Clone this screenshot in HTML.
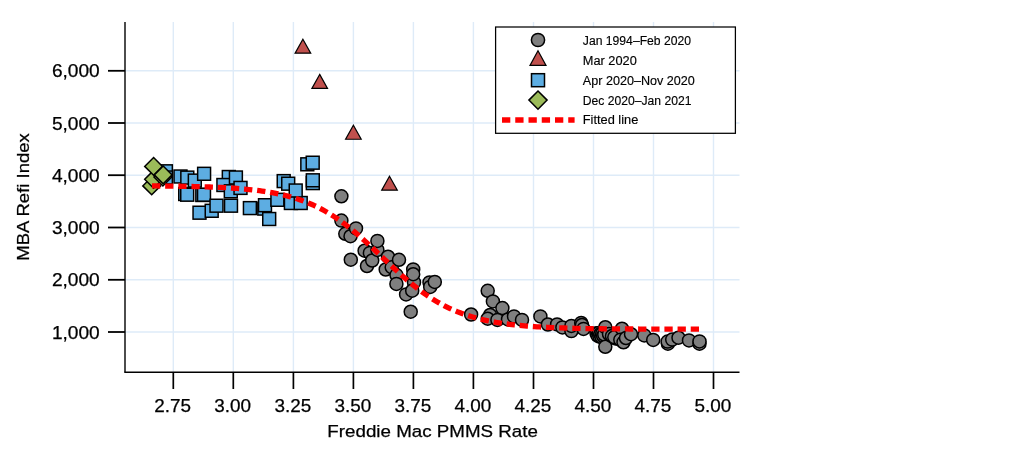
<!DOCTYPE html>
<html><head><meta charset="utf-8"><title>MBA Refi Index vs Freddie Mac PMMS Rate</title>
<style>html,body{margin:0;padding:0;background:#fff}svg{display:block}</style></head>
<body>
<svg width="1024" height="465" viewBox="0 0 1024 465">
<rect width="1024" height="465" fill="#fff"/>
<g stroke="#deebf8" stroke-width="1.4" fill="none">
<line x1="173.3" y1="22" x2="173.3" y2="372"/>
<line x1="233.3" y1="22" x2="233.3" y2="372"/>
<line x1="293.4" y1="22" x2="293.4" y2="372"/>
<line x1="353.4" y1="22" x2="353.4" y2="372"/>
<line x1="413.4" y1="22" x2="413.4" y2="372"/>
<line x1="473.4" y1="22" x2="473.4" y2="372"/>
<line x1="533.5" y1="22" x2="533.5" y2="372"/>
<line x1="593.5" y1="22" x2="593.5" y2="372"/>
<line x1="653.5" y1="22" x2="653.5" y2="372"/>
<line x1="713.5" y1="22" x2="713.5" y2="372"/>
<line x1="125" y1="332.0" x2="739.5" y2="332.0"/>
<line x1="125" y1="279.8" x2="739.5" y2="279.8"/>
<line x1="125" y1="227.5" x2="739.5" y2="227.5"/>
<line x1="125" y1="175.2" x2="739.5" y2="175.2"/>
<line x1="125" y1="123.0" x2="739.5" y2="123.0"/>
<line x1="125" y1="70.8" x2="739.5" y2="70.8"/>
</g>
<g fill="#7f7f7f" stroke="#000" stroke-width="1.5">
<circle cx="341.4" cy="196.3" r="6.5"/>
<circle cx="341.4" cy="220.6" r="6.5"/>
<circle cx="345.3" cy="233.8" r="6.5"/>
<circle cx="350.5" cy="236.2" r="6.5"/>
<circle cx="356" cy="228.4" r="6.5"/>
<circle cx="350.8" cy="259.7" r="6.5"/>
<circle cx="364.6" cy="250.7" r="6.5"/>
<circle cx="369.9" cy="252.9" r="6.5"/>
<circle cx="367" cy="266" r="6.5"/>
<circle cx="372.2" cy="260.5" r="6.5"/>
<circle cx="377.4" cy="249.9" r="6.5"/>
<circle cx="377.4" cy="240.9" r="6.5"/>
<circle cx="388" cy="256.7" r="6.5"/>
<circle cx="385.7" cy="269.5" r="6.5"/>
<circle cx="391.7" cy="267.2" r="6.5"/>
<circle cx="399" cy="259.8" r="6.5"/>
<circle cx="396.5" cy="275.1" r="6.5"/>
<circle cx="396.4" cy="283.9" r="6.5"/>
<circle cx="414" cy="282.4" r="6.5"/>
<circle cx="413.2" cy="269.4" r="6.5"/>
<circle cx="413.2" cy="274.2" r="6.5"/>
<circle cx="406.1" cy="294.4" r="6.5"/>
<circle cx="412.2" cy="290.7" r="6.5"/>
<circle cx="410.7" cy="311.7" r="6.5"/>
<circle cx="429.5" cy="282.4" r="6.5"/>
<circle cx="430.2" cy="286.9" r="6.5"/>
<circle cx="434.8" cy="281.9" r="6.5"/>
<circle cx="471.1" cy="314.5" r="6.5"/>
<circle cx="487.7" cy="290.8" r="6.5"/>
<circle cx="492.9" cy="301.4" r="6.5"/>
<circle cx="490.1" cy="315" r="6.5"/>
<circle cx="487.7" cy="318.7" r="6.5"/>
<circle cx="502.4" cy="308.1" r="6.5"/>
<circle cx="497.4" cy="319.9" r="6.5"/>
<circle cx="508" cy="319.4" r="6.5"/>
<circle cx="514" cy="316.4" r="6.5"/>
<circle cx="522" cy="319.9" r="6.5"/>
<circle cx="540.4" cy="316.4" r="6.5"/>
<circle cx="547.9" cy="324.5" r="6.5"/>
<circle cx="557.1" cy="324.4" r="6.5"/>
<circle cx="562.4" cy="327.4" r="6.5"/>
<circle cx="571.4" cy="331.1" r="6.5"/>
<circle cx="571.4" cy="325.9" r="6.5"/>
<circle cx="581.2" cy="322.9" r="6.5"/>
<circle cx="582" cy="325" r="6.5"/>
<circle cx="583.5" cy="328.9" r="6.5"/>
<circle cx="596.5" cy="333.2" r="6.5"/>
<circle cx="597.5" cy="335.5" r="6.5"/>
<circle cx="598.7" cy="333" r="6.5"/>
<circle cx="599.5" cy="336.5" r="6.5"/>
<circle cx="600.4" cy="334" r="6.5"/>
<circle cx="601.5" cy="337" r="6.5"/>
<circle cx="602.3" cy="333.5" r="6.5"/>
<circle cx="603.2" cy="336" r="6.5"/>
<circle cx="604.3" cy="334.5" r="6.5"/>
<circle cx="605.3" cy="327.2" r="6.5"/>
<circle cx="605.3" cy="346.8" r="6.5"/>
<circle cx="609" cy="334" r="6.5"/>
<circle cx="612" cy="336" r="6.5"/>
<circle cx="615.4" cy="338.4" r="6.5"/>
<circle cx="614.3" cy="337.2" r="6.5"/>
<circle cx="622" cy="328.7" r="6.5"/>
<circle cx="620.3" cy="339.8" r="6.5"/>
<circle cx="623.5" cy="342.3" r="6.5"/>
<circle cx="626" cy="338" r="6.5"/>
<circle cx="631" cy="334.2" r="6.5"/>
<circle cx="644.3" cy="335.4" r="6.5"/>
<circle cx="653.2" cy="339.9" r="6.5"/>
<circle cx="667.9" cy="343.7" r="6.5"/>
<circle cx="667.6" cy="341.6" r="6.5"/>
<circle cx="672.2" cy="339.6" r="6.5"/>
<circle cx="678.5" cy="337.7" r="6.5"/>
<circle cx="689" cy="340.4" r="6.5"/>
<circle cx="699.5" cy="343.7" r="6.5"/>
<circle cx="699.5" cy="341.4" r="6.5"/>
</g>
<g fill="#c0504d" stroke="#000" stroke-width="1.2" stroke-linejoin="miter">
<path d="M302.9 39.2L310.7 53.15H295.1Z"/>
<path d="M319.7 74.4L327.5 88.35H311.9Z"/>
<path d="M353.4 125.3L361.2 139.25H345.6Z"/>
<path d="M389.5 176.2L397.3 190.15H381.7Z"/>
</g>
<g fill="#5dade2" stroke="#000" stroke-width="1.5">
<rect x="159.45" y="164.85" width="12.9" height="12.9"/>
<rect x="159.45" y="171.05" width="12.9" height="12.9"/>
<rect x="174.05" y="170.05" width="12.9" height="12.9"/>
<rect x="180.85" y="171.15" width="12.9" height="12.9"/>
<rect x="188.35" y="174.15" width="12.9" height="12.9"/>
<rect x="178.75" y="187.55" width="12.9" height="12.9"/>
<rect x="180.75" y="188.25" width="12.9" height="12.9"/>
<rect x="195.85" y="188.55" width="12.9" height="12.9"/>
<rect x="197.55" y="188.25" width="12.9" height="12.9"/>
<rect x="197.65" y="167.35" width="12.9" height="12.9"/>
<rect x="193.05" y="206.25" width="12.9" height="12.9"/>
<rect x="205.25" y="204.35" width="12.9" height="12.9"/>
<rect x="210.05" y="199.25" width="12.9" height="12.9"/>
<rect x="224.55" y="199.25" width="12.9" height="12.9"/>
<rect x="222.35" y="170.55" width="12.9" height="12.9"/>
<rect x="216.95" y="178.55" width="12.9" height="12.9"/>
<rect x="224.35" y="184.85" width="12.9" height="12.9"/>
<rect x="229.45" y="171.05" width="12.9" height="12.9"/>
<rect x="234.05" y="181.45" width="12.9" height="12.9"/>
<rect x="243.45" y="201.65" width="12.9" height="12.9"/>
<rect x="257.85" y="202.15" width="12.9" height="12.9"/>
<rect x="258.55" y="198.75" width="12.9" height="12.9"/>
<rect x="262.75" y="212.55" width="12.9" height="12.9"/>
<rect x="270.95" y="193.35" width="12.9" height="12.9"/>
<rect x="284.45" y="196.55" width="12.9" height="12.9"/>
<rect x="294.25" y="196.55" width="12.9" height="12.9"/>
<rect x="277.25" y="174.65" width="12.9" height="12.9"/>
<rect x="281.75" y="177.25" width="12.9" height="12.9"/>
<rect x="289.25" y="184.05" width="12.9" height="12.9"/>
<rect x="306.35" y="176.65" width="12.9" height="12.9"/>
<rect x="306.35" y="173.85" width="12.9" height="12.9"/>
<rect x="300.85" y="157.85" width="12.9" height="12.9"/>
<rect x="306.25" y="156.25" width="12.9" height="12.9"/>
</g>
<g fill="#9bbb59" stroke="#000" stroke-width="1.5">
<path d="M151.7 177.0L160.6 185.9L151.7 194.8L142.79999999999998 185.9Z"/>
<path d="M153.6 170.4L162.5 179.3L153.6 188.20000000000002L144.7 179.3Z"/>
<path d="M153.6 157.5L162.5 166.4L153.6 175.3L144.7 166.4Z"/>
<path d="M162.9 168.2L171.8 177.1L162.9 186.0L154.0 177.1Z"/>
<path d="M163.2 166.0L172.1 174.9L163.2 183.8L154.29999999999998 174.9Z"/>
</g>
<path d="M152.0 185.93L154.5 185.95L157.0 185.97L159.5 186.00L162.0 186.02L164.5 186.05L167.0 186.07L169.5 186.10L172.0 186.13L174.5 186.17L177.0 186.20L179.5 186.24L182.0 186.28L184.5 186.33L187.0 186.37L189.5 186.42L192.0 186.48L194.5 186.54L197.0 186.60L199.5 186.66L202.0 186.73L204.5 186.81L207.0 186.89L209.5 186.98L212.0 187.07L214.5 187.17L217.0 187.27L219.5 187.39L222.0 187.51L224.5 187.64L227.0 187.78L229.5 187.92L232.0 188.08L234.5 188.25L237.0 188.43L239.5 188.62L242.0 188.82L244.5 189.04L247.0 189.28L249.5 189.53L252.0 189.79L254.5 190.07L257.0 190.37L259.5 190.70L262.0 191.04L264.5 191.40L267.0 191.79L269.5 192.20L272.0 192.64L274.5 193.11L277.0 193.60L279.5 194.13L282.0 194.69L284.5 195.28L287.0 195.91L289.5 196.58L292.0 197.28L294.5 198.03L297.0 198.82L299.5 199.65L302.0 200.53L304.5 201.46L307.0 202.43L309.5 203.46L312.0 204.55L314.5 205.68L317.0 206.87L319.5 208.12L322.0 209.43L324.5 210.80L327.0 212.23L329.5 213.72L332.0 215.27L334.5 216.88L337.0 218.55L339.5 220.29L342.0 222.08L344.5 223.93L347.0 225.84L349.5 227.81L352.0 229.83L354.5 231.90L357.0 234.02L359.5 236.18L362.0 238.39L364.5 240.64L367.0 242.91L369.5 245.22L372.0 247.55L374.5 249.90L377.0 252.27L379.5 254.65L382.0 257.03L384.5 259.41L387.0 261.78L389.5 264.15L392.0 266.50L394.5 268.82L397.0 271.12L399.5 273.40L402.0 275.63L404.5 277.83L407.0 279.99L409.5 282.10L412.0 284.16L414.5 286.18L417.0 288.14L419.5 290.04L422.0 291.89L424.5 293.68L427.0 295.41L429.5 297.08L432.0 298.69L434.5 300.24L437.0 301.73L439.5 303.16L442.0 304.53L444.5 305.84L447.0 307.10L449.5 308.30L452.0 309.44L454.5 310.54L457.0 311.58L459.5 312.56L462.0 313.51L464.5 314.40L467.0 315.25L469.5 316.05L472.0 316.81L474.5 317.54L477.0 318.22L479.5 318.86L482.0 319.48L484.5 320.05L487.0 320.60L489.5 321.11L492.0 321.60L494.5 322.06L497.0 322.49L499.5 322.89L502.0 323.28L504.5 323.64L507.0 323.98L509.5 324.30L512.0 324.60L514.5 324.88L517.0 325.15L519.5 325.40L522.0 325.63L524.5 325.85L527.0 326.06L529.5 326.26L532.0 326.44L534.5 326.61L537.0 326.77L539.5 326.92L542.0 327.06L544.5 327.20L547.0 327.32L549.5 327.44L552.0 327.55L554.5 327.65L557.0 327.75L559.5 327.84L562.0 327.93L564.5 328.01L567.0 328.08L569.5 328.15L572.0 328.22L574.5 328.28L577.0 328.34L579.5 328.39L582.0 328.44L584.5 328.49L587.0 328.54L589.5 328.58L592.0 328.62L594.5 328.65L597.0 328.69L599.5 328.72L602.0 328.75L604.5 328.78L607.0 328.81L609.5 328.83L612.0 328.85L614.5 328.88L617.0 328.90L619.5 328.92L622.0 328.93L624.5 328.95L627.0 328.97L629.5 328.98L632.0 328.99L634.5 329.01L637.0 329.02L639.5 329.03L642.0 329.04L644.5 329.05L647.0 329.06L649.5 329.07L652.0 329.08L654.5 329.09L657.0 329.09L659.5 329.10L662.0 329.11L664.5 329.11L667.0 329.12L669.5 329.12L672.0 329.13L674.5 329.13L677.0 329.14L679.5 329.14L682.0 329.14L684.5 329.15L687.0 329.15L689.5 329.15L692.0 329.16L694.5 329.16L697.0 329.16L699.5 329.16" fill="none" stroke="#ff0000" stroke-width="5.3" stroke-dasharray="8.3 4.86"/>
<g stroke="#000" stroke-width="1.8" fill="none">
<path d="M125 22V372.2" stroke-width="1.4"/>
<path d="M124.3 372.2H739.5" stroke-width="1.4"/>
<line x1="173.3" y1="372" x2="173.3" y2="389" stroke-width="1.7"/>
<line x1="233.3" y1="372" x2="233.3" y2="389" stroke-width="1.7"/>
<line x1="293.4" y1="372" x2="293.4" y2="389" stroke-width="1.7"/>
<line x1="353.4" y1="372" x2="353.4" y2="389" stroke-width="1.7"/>
<line x1="413.4" y1="372" x2="413.4" y2="389" stroke-width="1.7"/>
<line x1="473.4" y1="372" x2="473.4" y2="389" stroke-width="1.7"/>
<line x1="533.5" y1="372" x2="533.5" y2="389" stroke-width="1.7"/>
<line x1="593.5" y1="372" x2="593.5" y2="389" stroke-width="1.7"/>
<line x1="653.5" y1="372" x2="653.5" y2="389" stroke-width="1.7"/>
<line x1="713.5" y1="372" x2="713.5" y2="389" stroke-width="1.7"/>
<line x1="108" y1="332.0" x2="125" y2="332.0"/>
<line x1="108" y1="279.8" x2="125" y2="279.8"/>
<line x1="108" y1="227.5" x2="125" y2="227.5"/>
<line x1="108" y1="175.2" x2="125" y2="175.2"/>
<line x1="108" y1="123.0" x2="125" y2="123.0"/>
<line x1="108" y1="70.8" x2="125" y2="70.8"/>
</g>
<g font-family="Liberation Sans, Arial, sans-serif" font-size="18" fill="#000" stroke="#000" stroke-width="0.25">
<text x="172.7" y="411.7" text-anchor="middle" textLength="36.8" lengthAdjust="spacingAndGlyphs">2.75</text>
<text x="232.7" y="411.7" text-anchor="middle" textLength="36.8" lengthAdjust="spacingAndGlyphs">3.00</text>
<text x="292.8" y="411.7" text-anchor="middle" textLength="36.8" lengthAdjust="spacingAndGlyphs">3.25</text>
<text x="352.8" y="411.7" text-anchor="middle" textLength="36.8" lengthAdjust="spacingAndGlyphs">3.50</text>
<text x="412.8" y="411.7" text-anchor="middle" textLength="36.8" lengthAdjust="spacingAndGlyphs">3.75</text>
<text x="472.8" y="411.7" text-anchor="middle" textLength="36.8" lengthAdjust="spacingAndGlyphs">4.00</text>
<text x="532.9" y="411.7" text-anchor="middle" textLength="36.8" lengthAdjust="spacingAndGlyphs">4.25</text>
<text x="592.9" y="411.7" text-anchor="middle" textLength="36.8" lengthAdjust="spacingAndGlyphs">4.50</text>
<text x="652.9" y="411.7" text-anchor="middle" textLength="36.8" lengthAdjust="spacingAndGlyphs">4.75</text>
<text x="712.9" y="411.7" text-anchor="middle" textLength="36.8" lengthAdjust="spacingAndGlyphs">5.00</text>
<text x="99.7" y="338.5" text-anchor="end" textLength="47.8" lengthAdjust="spacingAndGlyphs">1,000</text>
<text x="99.7" y="286.2" text-anchor="end" textLength="47.8" lengthAdjust="spacingAndGlyphs">2,000</text>
<text x="99.7" y="234.0" text-anchor="end" textLength="47.8" lengthAdjust="spacingAndGlyphs">3,000</text>
<text x="99.7" y="181.8" text-anchor="end" textLength="47.8" lengthAdjust="spacingAndGlyphs">4,000</text>
<text x="99.7" y="129.5" text-anchor="end" textLength="47.8" lengthAdjust="spacingAndGlyphs">5,000</text>
<text x="99.7" y="77.2" text-anchor="end" textLength="47.8" lengthAdjust="spacingAndGlyphs">6,000</text>
<text x="432.6" y="436.9" font-size="17.4" text-anchor="middle" textLength="210.5" lengthAdjust="spacingAndGlyphs">Freddie Mac PMMS Rate</text>
<text transform="translate(29.3,197) rotate(-90)" font-size="17.4" text-anchor="middle" textLength="127.5" lengthAdjust="spacingAndGlyphs">MBA Refi Index</text>
</g>
<rect x="495.6" y="27" width="239.8" height="106.3" fill="#fff" stroke="#000" stroke-width="1.25"/>
<circle cx="538" cy="40" r="6.6" fill="#7f7f7f" stroke="#000" stroke-width="1.5"/>
<path d="M538 50.8L546.0 65.45H530.0Z" fill="#c0504d" stroke="#000" stroke-width="1.2"/>
<rect x="531.5" y="73.7" width="13" height="13" fill="#5dade2" stroke="#000" stroke-width="1.5"/>
<path d="M538 91.0L547.1 100.1L538 109.19999999999999L528.9 100.1Z" fill="#9bbb59" stroke="#000" stroke-width="1.5"/>
<path d="M502 120H574.6" fill="none" stroke="#ff0000" stroke-width="5.3" stroke-dasharray="8.3 4.95"/>
<g font-family="Liberation Sans, Arial, sans-serif" font-size="12.5" fill="#000" stroke="#000" stroke-width="0.15">
<text x="582.8" y="45" textLength="108.3" lengthAdjust="spacingAndGlyphs">Jan 1994–Feb 2020</text>
<text x="582.8" y="64.8" textLength="54" lengthAdjust="spacingAndGlyphs">Mar 2020</text>
<text x="582.8" y="85.2" textLength="112" lengthAdjust="spacingAndGlyphs">Apr 2020–Nov 2020</text>
<text x="582.8" y="104.9" textLength="108.6" lengthAdjust="spacingAndGlyphs">Dec 2020–Jan 2021</text>
<text x="582.8" y="124.4" textLength="55.5" lengthAdjust="spacingAndGlyphs">Fitted line</text>
</g>
</svg>
</body></html>
